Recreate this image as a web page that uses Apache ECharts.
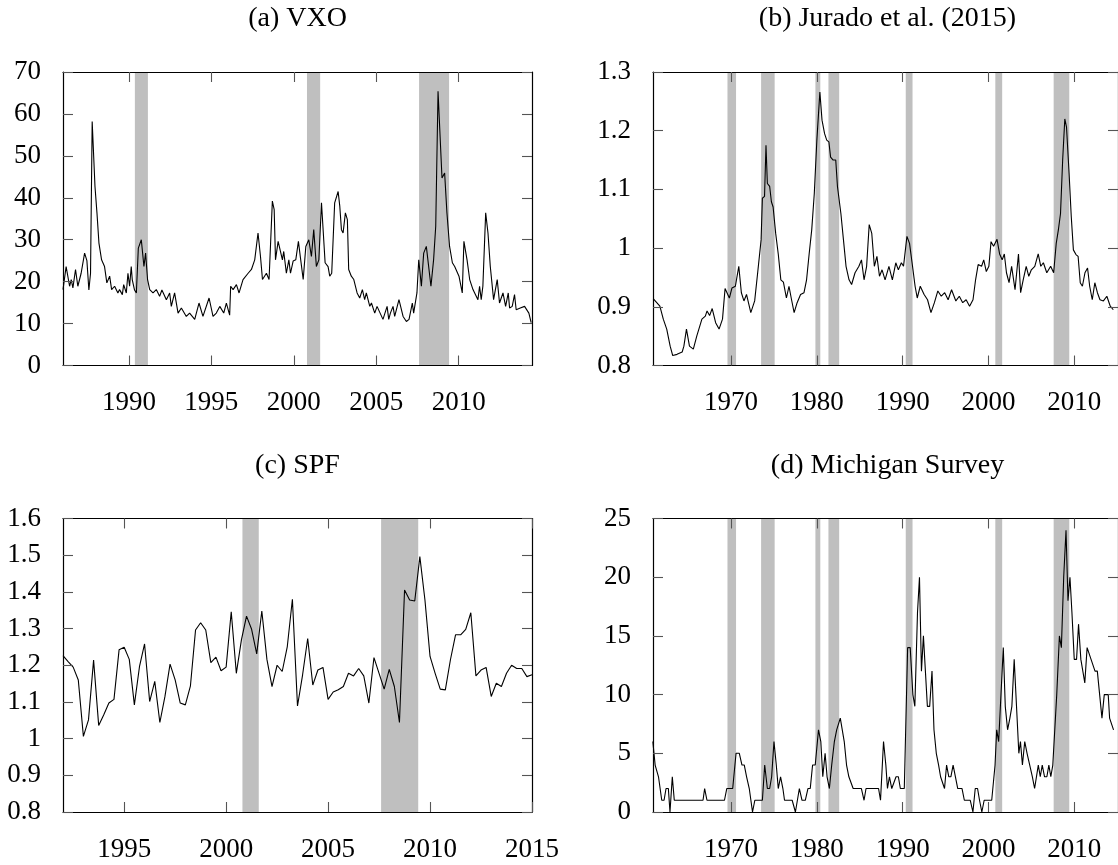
<!DOCTYPE html>
<html>
<head>
<meta charset="utf-8">
<title>Uncertainty measures</title>
<script src="https://cdn.jsdelivr.net/npm/echarts@6/dist/echarts.min.js"></script>
<style>
  html, body { margin: 0; padding: 0; background: #ffffff; }
  #chart { width: 1118px; height: 865px; }
</style>
</head>
<body>
<div id="chart"></div>
<script>
// ---- (a) VXO, monthly readings (decimal year, index level) ----
const vxoDates = [1986.0,1986.19,1986.4,1986.5,1986.6,1986.76,1986.9,1987.1,1987.31,1987.45,1987.57,1987.67,1987.77,1987.94,1988.06,1988.18,1988.34,1988.52,1988.66,1988.83,1988.95,1989.13,1989.33,1989.43,1989.6,1989.68,1989.84,1989.94,1990.04,1990.14,1990.2,1990.34,1990.45,1990.57,1990.75,1990.91,1991.01,1991.13,1991.26,1991.46,1991.66,1991.86,1992.0,1992.27,1992.47,1992.57,1992.77,1992.98,1993.18,1993.48,1993.68,1993.99,1994.25,1994.49,1994.86,1995.1,1995.3,1995.51,1995.75,1995.91,1996.11,1996.17,1996.32,1996.52,1996.68,1996.92,1997.23,1997.43,1997.63,1997.83,1997.98,1998.1,1998.34,1998.5,1998.7,1998.81,1998.89,1999.05,1999.31,1999.39,1999.55,1999.7,1999.8,1999.96,2000.12,2000.28,2000.42,2000.57,2000.73,2000.91,2001.07,2001.21,2001.37,2001.52,2001.68,2001.9,2002.08,2002.18,2002.3,2002.48,2002.69,2002.79,2002.89,2002.99,2003.13,2003.25,2003.33,2003.49,2003.64,2003.84,2004.0,2004.16,2004.3,2004.4,2004.61,2004.71,2004.91,2005.05,2005.41,2005.66,2005.76,2005.86,2006.02,2006.12,2006.38,2006.63,2006.83,2006.99,2007.19,2007.27,2007.47,2007.58,2007.74,2007.88,2008.04,2008.32,2008.48,2008.61,2008.75,2008.85,2008.99,2009.15,2009.29,2009.45,2009.62,2009.76,2010.02,2010.22,2010.32,2010.51,2010.67,2010.87,2011.17,2011.27,2011.37,2011.47,2011.64,2011.78,2011.92,2012.12,2012.34,2012.48,2012.69,2012.85,2013.01,2013.09,2013.25,2013.39,2013.49,2013.74,2014.0,2014.26,2014.4];
const vxoValues = [18.1,23.6,18.9,20.5,18.5,22.9,18.9,22,26.8,25,18,22,58.2,42.7,36.4,29.2,25.2,23.6,19.7,21.3,18.1,18.9,17.3,18.1,16.9,19.3,17.3,22,18.9,23.6,20.5,18,17.3,28,30,23.6,26.8,20.5,18.1,17.3,18.1,16.5,18,15.7,17.3,14.1,17.3,12.5,13.7,11.7,12.5,11,14.9,11.7,16.1,11.7,12.5,14.1,12.5,14.9,12,18.9,18.1,19.3,17.3,20.5,22,22.9,25.2,31.6,26,20.5,22,20.5,39.2,37.2,25.2,29.6,25.2,27.2,22,25.2,22,24.9,25.2,29.6,25.2,20.5,28.4,30,26,32.4,23.6,25.2,38.8,24.5,23.6,21.3,22,38.8,41.5,38,32.4,31.6,36.4,34.8,22.9,21.3,20.5,17.3,16.1,18.1,15.7,17.3,14.1,14.9,12.5,14.1,11,14.1,11,12.5,14.1,11.7,15.7,11.7,10.5,11,14.9,12.5,17.3,25.2,18.9,26.8,28.4,18.9,25.2,33.2,65.4,65,44.7,45.9,36.4,28.4,24.5,23.6,21.3,17.3,29.6,25.2,20.5,18.1,15.7,18.9,15.7,18.9,36.4,31.6,23.6,15.7,20.5,14.9,17.3,14.1,17.3,13.7,14.1,16.9,13.3,13.7,14.1,12.5,10.2];

// ---- (b) Jurado, Ludvigson and Ng macro uncertainty ----
const jlnDates = [1960.92,1961.7,1962.1,1962.5,1962.9,1963.2,1963.7,1964.3,1964.5,1964.8,1965.15,1965.6,1966.0,1966.6,1967.0,1967.2,1967.5,1967.8,1968.2,1968.6,1969.0,1969.3,1969.8,1970.1,1970.5,1970.9,1971.2,1971.5,1971.8,1972.3,1972.75,1973.1,1973.5,1973.65,1973.9,1974.07,1974.23,1974.5,1974.7,1974.9,1975.2,1975.5,1975.8,1976.1,1976.45,1976.75,1977.05,1977.35,1977.7,1978.1,1978.5,1978.8,1979.1,1979.4,1979.7,1980.0,1980.35,1980.6,1980.9,1981.15,1981.4,1981.6,1981.9,1982.2,1982.4,1982.8,1983.1,1983.4,1983.75,1984.05,1984.45,1984.9,1985.2,1985.5,1985.8,1986.1,1986.4,1986.7,1987.0,1987.3,1987.6,1987.95,1988.4,1988.8,1989.2,1989.5,1989.85,1990.1,1990.5,1990.8,1991.15,1991.45,1991.7,1992.05,1992.5,1992.9,1993.3,1993.7,1994.1,1994.5,1994.9,1995.3,1995.7,1996.2,1996.6,1997.0,1997.4,1997.8,1998.2,1998.5,1998.8,1999.2,1999.45,1999.75,2000.05,2000.3,2000.6,2001.0,2001.3,2001.6,2001.85,2002.1,2002.4,2002.7,2003.1,2003.5,2003.75,2004.05,2004.4,2004.7,2005.0,2005.4,2005.8,2006.1,2006.4,2006.8,2007.25,2007.6,2007.9,2008.15,2008.4,2008.65,2008.9,2009.1,2009.4,2009.65,2009.9,2010.2,2010.45,2010.7,2010.95,2011.25,2011.55,2011.8,2012.1,2012.4,2012.7,2013.0,2013.4,2013.8,2014.2,2014.55];
const jlnValues = [0.914,0.901,0.879,0.862,0.833,0.817,0.819,0.823,0.833,0.862,0.833,0.828,0.85,0.879,0.884,0.893,0.885,0.897,0.873,0.862,0.879,0.931,0.915,0.932,0.935,0.969,0.924,0.91,0.921,0.89,0.91,0.958,1.014,1.085,1.088,1.175,1.11,1.105,1.079,1.07,1.025,0.99,0.946,0.942,0.915,0.935,0.912,0.89,0.907,0.921,0.924,0.946,0.99,1.031,1.093,1.184,1.266,1.218,1.195,1.184,1.181,1.155,1.15,1.15,1.105,1.059,1.014,0.969,0.946,0.938,0.958,0.969,0.98,0.946,0.969,1.04,1.025,0.969,0.986,0.952,0.963,0.946,0.969,0.946,0.975,0.963,0.975,0.969,1.02,1.008,0.969,0.935,0.915,0.935,0.921,0.912,0.89,0.907,0.927,0.918,0.924,0.912,0.929,0.91,0.918,0.907,0.912,0.901,0.912,0.946,0.972,0.969,0.98,0.96,0.969,1.011,1.003,1.015,0.99,0.98,0.99,0.958,0.941,0.969,0.929,0.99,0.924,0.946,0.969,0.952,0.963,0.969,0.99,0.969,0.975,0.958,0.969,0.958,1.008,1.031,1.059,1.15,1.22,1.206,1.127,1.054,0.997,0.989,0.986,0.941,0.935,0.958,0.966,0.935,0.912,0.941,0.924,0.912,0.91,0.918,0.901,0.895];

// ---- (c) SPF, quarterly from 1992Q1 ----
const spfStart = 1992;
const spfStep = 0.25;
const spfValues = [1.226,1.21,1.195,1.16,1.006,1.051,1.214,1.036,1.065,1.097,1.107,1.242,1.249,1.216,1.092,1.196,1.258,1.101,1.156,1.044,1.115,1.203,1.16,1.097,1.092,1.144,1.296,1.316,1.296,1.207,1.222,1.185,1.195,1.346,1.178,1.269,1.334,1.298,1.231,1.348,1.216,1.142,1.2,1.183,1.251,1.38,1.089,1.174,1.273,1.146,1.187,1.194,1.107,1.127,1.133,1.142,1.178,1.171,1.191,1.171,1.097,1.221,1.178,1.135,1.189,1.142,1.044,1.405,1.378,1.375,1.496,1.378,1.224,1.178,1.135,1.133,1.215,1.283,1.283,1.298,1.343,1.171,1.187,1.194,1.115,1.151,1.142,1.178,1.2,1.191,1.191,1.169,1.174];

// ---- (d) Michigan Survey ----
const michDates = [1960.88,1961.15,1961.54,1961.92,1962.19,1962.42,1962.69,1962.88,1963.15,1963.38,1966.73,1966.92,1967.19,1969.23,1969.5,1970.19,1970.58,1970.96,1971.27,1971.54,1971.81,1972.12,1972.31,1972.5,1972.77,1973.65,1973.92,1974.23,1974.5,1974.73,1975.0,1975.27,1975.5,1975.77,1976.04,1976.23,1977.12,1977.5,1977.96,1978.27,1978.65,1978.96,1979.23,1979.5,1979.81,1980.19,1980.46,1980.69,1980.96,1981.19,1981.46,1981.73,1982.04,1982.31,1982.5,1982.73,1982.96,1983.19,1983.46,1983.73,1983.96,1984.23,1985.19,1985.5,1985.73,1987.19,1987.42,1987.77,1988.04,1988.23,1988.46,1988.73,1988.96,1989.23,1989.5,1989.73,1990.19,1990.58,1990.88,1991.19,1991.42,1991.73,1991.96,1992.19,1992.42,1992.65,1992.88,1993.15,1993.42,1993.65,1993.92,1994.19,1994.42,1994.62,1994.88,1995.12,1995.38,1995.62,1995.88,1996.15,1996.42,1996.92,1997.19,1997.88,1998.19,1998.46,1998.73,1998.96,1999.23,1999.5,2000.38,2000.77,2000.96,2001.19,2001.73,2001.96,2002.23,2002.5,2002.73,2003.0,2003.27,2003.54,2003.73,2003.96,2004.23,2004.5,2004.81,2005.12,2005.38,2005.58,2005.81,2006.04,2006.27,2006.54,2006.81,2007.04,2007.27,2007.5,2007.96,2008.27,2008.5,2008.77,2009.04,2009.27,2009.5,2009.73,2010.0,2010.27,2010.5,2010.77,2011.0,2011.23,2011.5,2011.73,2011.96,2012.19,2012.42,2012.69,2012.96,2013.23,2013.5,2013.96,2014.12,2014.35,2014.58];
const michValues = [6,4,3,1,1,2,2,0,3,1,1,2,1,1,2,2,5,5,4,4,3,2,2,0,1,1,4,2,2,3,6,4,2,3,2,1,1,0,2,1,1,2,2,4,4,7,6,3,5,3,2,4,6,7,7,8,7,6,4,3,3,2,2,1,2,2,1,6,4,2,3,2,2,3,3,2,2,14,14,10,9,17,20,12,15,12,9,9,12,7,5,4,3,3,2,4,3,3,4,3,2,2,1,1,0,2,2,1,0,1,1,4,7,6,14,9,7,8,9,13,9,5,6,4,6,5,4,3,2,2,4,3,4,3,3,4,3,4,10,15,14,20,24,18,20,17,13,13,16,13,12,11,14,14,13,13,12,12,10,8,10,10,8,8,7];

// ---- Recession shading (decimal years) ----
const recessionStarts = [1969.58, 1973.5, 1979.83, 1981.35, 1990.36, 2000.8, 2007.6];
const recessionEnds   = [1970.58, 1975.08, 1980.4, 1981.35 + 1.25, 1991.15, 2001.6, 2009.42];

// ---- Axis ticks ----
const ticksVxo = [1990, 1995, 2000, 2005, 2010];
const ticksLong = [1970, 1980, 1990, 2000, 2010];
const ticksSpf = [1995, 2000, 2005, 2010, 2015];

const spfDates = spfValues.map((_, i) => spfStart + i * spfStep);

const FONT = '"Liberation Serif", "Times New Roman", serif';
const LABEL_SIZE = 27;
const TITLE_SIZE = 28;

const panels = [
  { title: '(a) VXO', dates: vxoDates, values: vxoValues, xMin: 1986, xMax: 2014.45,
    xTicks: ticksVxo, yMin: 0, yMax: 70, yStep: 10, left: 63, top: 72 },
  { title: '(b) Jurado et al. (2015)', dates: jlnDates, values: jlnValues, xMin: 1960.9, xMax: 2015.1,
    xTicks: ticksLong, yMin: 0.8, yMax: 1.3, yStep: 0.1, left: 653, top: 72 },
  { title: '(c) SPF', dates: spfDates, values: spfValues, xMin: 1992, xMax: 2015,
    xTicks: ticksSpf, yMin: 0.8, yMax: 1.6, yStep: 0.1, left: 63, top: 518.5 },
  { title: '(d) Michigan Survey', dates: michDates, values: michValues, xMin: 1960.9, xMax: 2015.1,
    xTicks: ticksLong, yMin: 0, yMax: 25, yStep: 5, left: 653, top: 518.5 }
];

const PLOT_W = 469;
const PLOT_H = 293.5;

const frameLine = { show: true, onZero: false, lineStyle: { color: '#000', width: 1.2 } };
const tickStyle = { color: '#555', width: 1.1 };

const grid = [], xAxis = [], yAxis = [], series = [], graphic = [];

panels.forEach((p, i) => {
  grid.push({ left: p.left, top: p.top, width: PLOT_W, height: PLOT_H, containLabel: false });

  // bottom and top x axes (top one mirrors the ticks)
  xAxis.push({
    type: 'value', gridIndex: i, position: 'bottom', min: p.xMin, max: p.xMax, z: 10,
    axisLine: frameLine,
    axisTick: { show: true, inside: true, length: 10, customValues: p.xTicks, lineStyle: tickStyle },
    axisLabel: { show: true, customValues: p.xTicks, margin: 24, fontFamily: FONT, fontSize: LABEL_SIZE,
      color: '#000', showMinLabel: true, showMaxLabel: true, formatter: v => String(v) },
    splitLine: { show: false }
  });
  xAxis.push({
    type: 'value', gridIndex: i, position: 'top', min: p.xMin, max: p.xMax, z: 10,
    axisLine: frameLine,
    axisTick: { show: true, inside: true, length: 10, customValues: p.xTicks, lineStyle: tickStyle },
    axisLabel: { show: false },
    splitLine: { show: false }
  });

  // left and right y axes (right one mirrors the ticks)
  yAxis.push({
    type: 'value', gridIndex: i, position: 'left', min: p.yMin, max: p.yMax, interval: p.yStep, z: 10,
    axisLine: frameLine,
    axisTick: { show: true, inside: true, length: 10, lineStyle: tickStyle },
    axisLabel: { show: true, margin: 22, fontFamily: FONT, fontSize: LABEL_SIZE, color: '#000' },
    splitLine: { show: false }
  });
  yAxis.push({
    type: 'value', gridIndex: i, position: 'right', min: p.yMin, max: p.yMax, interval: p.yStep, z: 10,
    axisLine: frameLine,
    axisTick: { show: true, inside: true, length: 10, lineStyle: tickStyle },
    axisLabel: { show: false },
    splitLine: { show: false }
  });

  const areas = [];
  recessionStarts.forEach((s, k) => {
    const e = recessionEnds[k];
    if (e > p.xMin && s < p.xMax) {
      areas.push([{ xAxis: Math.max(s, p.xMin) }, { xAxis: Math.min(e, p.xMax) }]);
    }
  });

  series.push({
    type: 'line', xAxisIndex: 2 * i, yAxisIndex: 2 * i, z: 3,
    data: p.dates.map((d, k) => [d, p.values[k]]),
    showSymbol: false, symbol: 'none', silent: true,
    lineStyle: { color: '#000', width: 1.1 },
    clip: true,
    markArea: {
      silent: true, z: 1,
      itemStyle: { color: '#bfbfbf', opacity: 1, borderWidth: 0 },
      label: { show: false },
      data: areas
    }
  });

  graphic.push({
    type: 'text', x: p.left + PLOT_W / 2, y: p.top - 53,
    style: { text: p.title, fontFamily: FONT, fontSize: TITLE_SIZE, fill: '#000',
      align: 'center', verticalAlign: 'middle' }
  });
});

const chart = echarts.init(document.getElementById('chart'), null, { renderer: 'canvas' });
chart.setOption({
  backgroundColor: '#ffffff',
  animation: false,
  grid, xAxis, yAxis, series, graphic
});
</script>
</body>
</html>
